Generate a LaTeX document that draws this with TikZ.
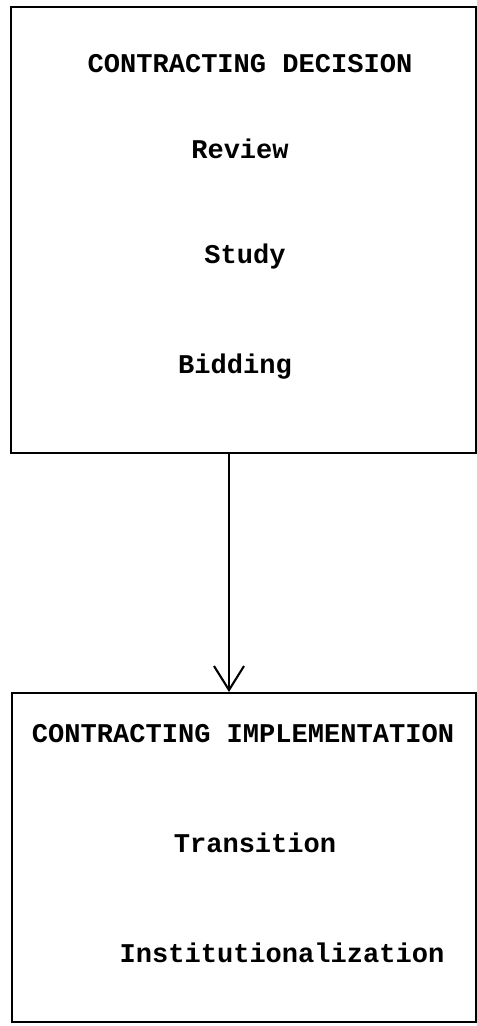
\documentclass[tikz,border=0pt]{standalone}
\usepackage{fontspec}
\setmonofont{Liberation Mono}
\usetikzlibrary{arrows.meta}
\tikzset{
  panel/.style={draw,line width=1.1pt,inner sep=0pt},
  lbl/.style={anchor=base,inner sep=0pt,font=\ttfamily\bfseries\fontsize{15.4}{18}\selectfont},
}
\begin{document}
\begin{tikzpicture}
      \useasboundingbox (0,0) rectangle (9.54,20.52);
      \node[panel,minimum width=9.30cm,minimum height=8.92cm] (decision) at (4.87,15.92) {};
      \node[panel,minimum width=9.28cm,minimum height=6.58cm] (implementation) at (4.88,3.37) {};
      \node[lbl] (dtitle) at (5.0,19.06) {CONTRACTING DECISION};
      \node[lbl] (review) at (4.8,17.34) {Review};
      \node[lbl] (study) at (4.9,15.24) {Study};
      \node[lbl] (bidding) at (4.7,13.04) {Bidding};
      \node[lbl] (ititle) at (4.86,5.66) {CONTRACTING IMPLEMENTATION};
      \node[lbl] (transition) at (5.1,3.46) {Transition};
      \node[lbl] (inst) at (5.64,1.26) {Institutionalization};
      \coordinate (link) at (4.58,0);
      \draw[line width=1pt,-{Straight Barb[length=4.8mm,width=6mm,line width=1.2pt]}]
        (decision.south -| link) -- (implementation.north -| link);
    \end{tikzpicture}
\end{document}
